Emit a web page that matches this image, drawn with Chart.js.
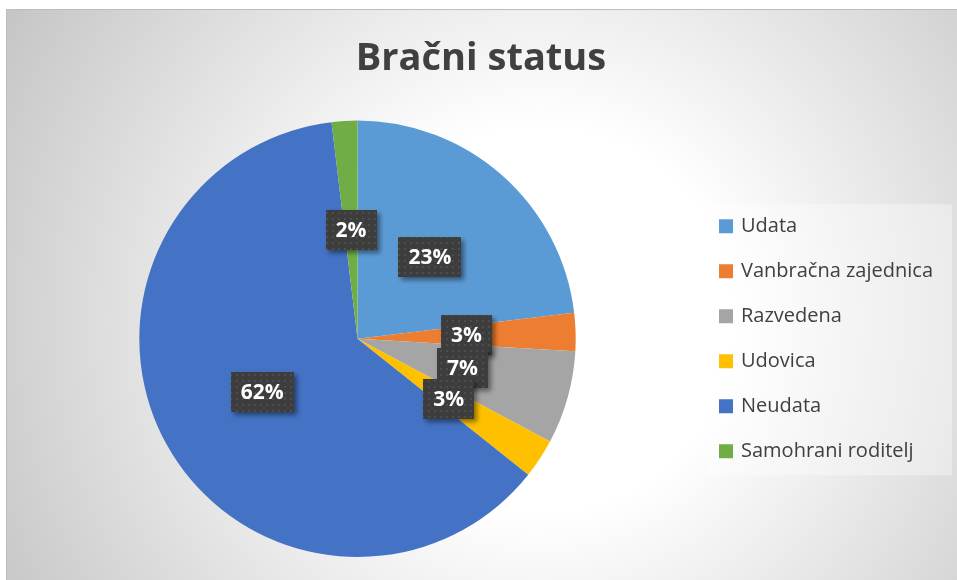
<!DOCTYPE html>
<html><head><meta charset="utf-8">
<script src="https://cdn.jsdelivr.net/npm/chart.js@4"></script>
<style>html,body{margin:0;padding:0;background:#fff;overflow:hidden}</style>
</head><body>
<canvas id="c" width="957" height="580"></canvas>
<script>
const chartTitle = 'Bračni status';
const categories = ['Udata', 'Vanbračna zajednica', 'Razvedena', 'Udovica', 'Neudata', 'Samohrani roditelj'];
const shares = [23.1, 2.8, 6.9, 2.9, 62.4, 1.9];
const sliceColors = ['#5B9BD5', '#ED7D31', '#A5A5A5', '#FFC000', '#4472C4', '#70AD47'];

const total = shares.reduce((a, b) => a + b, 0);
const pctLabels = shares.map(v => Math.round(v / total * 100) + '%');

// dotted dark pattern for label boxes
const pc = document.createElement('canvas');
pc.width = 6; pc.height = 6;
const pctx = pc.getContext('2d');
pctx.fillStyle = '#3d3d3d'; pctx.fillRect(0, 0, 6, 6);
pctx.fillStyle = '#4d4d4d'; pctx.fillRect(2, 2, 2, 2);

const bgPlugin = {
  id: 'bg',
  beforeDraw(chart) {
    const ctx = chart.ctx;
    ctx.save();
    const g = ctx.createRadialGradient(540, 320, 0, 540, 320, 640);
    g.addColorStop(0, '#ffffff');
    g.addColorStop(0.3, '#ffffff');
    g.addColorStop(1, '#c2c2c2');
    ctx.fillStyle = g;
    ctx.fillRect(6, 9, 951, 571);
    ctx.strokeStyle = '#bdbdbd';
    ctx.lineWidth = 1;
    ctx.strokeRect(6.5, 9.5, 956, 576);
    // legend background
    const lg = chart.legend;
    if (lg && lg.legendHitBoxes && lg.legendHitBoxes.length) {
      const hb = lg.legendHitBoxes;
      const l = hb[0].left - 14;
      const t = hb[0].top - 12;
      const r = lg.right + 9;
      const last = hb[hb.length - 1];
      const b = last.top + last.height + 14;
      ctx.fillStyle = 'rgba(255,255,255,0.35)';
      ctx.fillRect(l, t, r - l, b - t);
    }
    ctx.restore();
  }
};

const labelPlugin = {
  id: 'boxLabels',
  afterDatasetsDraw(chart) {
    const ctx = chart.ctx;
    const pattern = ctx.createPattern(pc, 'repeat');
    const meta = chart.getDatasetMeta(0);
    ctx.save();
    ctx.font = 'bold 21px "Open Sans"';
    meta.data.forEach((arc, i) => {
      const p = arc.tooltipPosition();
      const txt = pctLabels[i];
      const w = ctx.measureText(txt).width + 20, h = 40;
      ctx.save();
      ctx.shadowColor = 'rgba(0,0,0,0.45)';
      ctx.shadowBlur = 5;
      ctx.shadowOffsetX = 3;
      ctx.shadowOffsetY = 3;
      ctx.fillStyle = pattern;
      ctx.fillRect(Math.round(p.x - w / 2), Math.round(p.y - h / 2), Math.round(w), h);
      ctx.restore();
      ctx.fillStyle = '#ffffff';
      ctx.textAlign = 'center';
      ctx.textBaseline = 'middle';
      ctx.fillText(txt, p.x, p.y + 1);
    });
    ctx.restore();
  }
};

new Chart(document.getElementById('c'), {
  type: 'pie',
  data: {
    labels: categories,
    datasets: [{
      data: shares,
      backgroundColor: sliceColors,
      borderWidth: 0
    }]
  },
  options: {
    responsive: false,
    animation: false,
    layout: { padding: { top: 9, left: 19, right: 14, bottom: 23 } },
    plugins: {
      tooltip: { enabled: false },
      title: {
        display: true,
        text: chartTitle,
        color: '#404040',
        font: { family: '"Open Sans"', size: 38, weight: 'bold', lineHeight: 1.2 },
        padding: { top: 27, bottom: 39 }
      },
      legend: {
        position: 'right',
        fullSize: false,
        labels: {
          color: '#404040',
          font: { family: '"Open Sans"', size: 20 },
          usePointStyle: true,
          pointStyle: 'rect',
          boxWidth: 10,
          boxHeight: 14,
          padding: 25
        }
      }
    }
  },
  plugins: [bgPlugin, labelPlugin]
});
</script>
</body></html>
